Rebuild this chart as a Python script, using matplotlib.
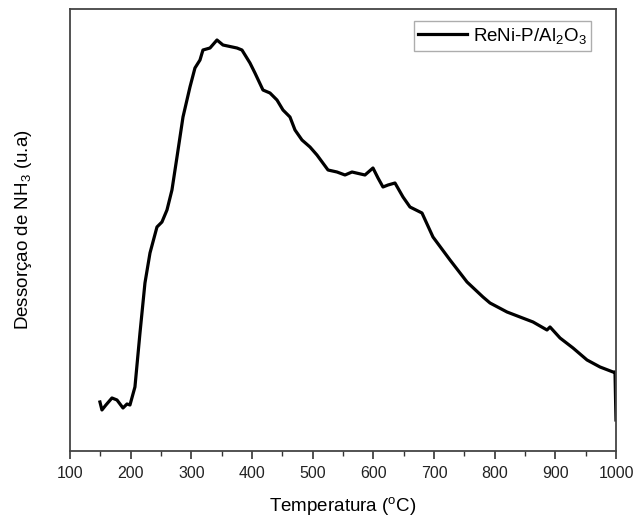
import matplotlib
matplotlib.use('Agg')
import matplotlib.pyplot as plt
from matplotlib.ticker import MultipleLocator

plt.rcParams['font.family'] = 'Liberation Sans'
plt.rcParams['mathtext.fontset'] = 'custom'
plt.rcParams['mathtext.rm'] = 'Liberation Sans'
plt.rcParams['mathtext.it'] = 'Liberation Sans'

# TPD de NH3 (u.a.)
temperatura = [149.4, 152.7, 159.3, 169.2, 177.5, 187.4, 194.0, 198.9, 207.1, 215.4,
               223.6, 231.9, 243.4, 251.6, 259.9, 268.1, 276.4, 286.3, 297.8, 306.0,
               314.3, 319.2, 330.8, 342.3, 352.2, 375.3, 383.5, 396.7, 404.9, 418.1,
               429.7, 441.2, 451.1, 462.6, 470.9, 482.4, 495.6, 507.1, 525.3, 540.1,
               553.3, 564.8, 586.2, 599.4, 607.7, 615.9, 624.2, 635.7, 648.9, 660.4,
               680.2, 698.3, 726.4, 754.4, 780.7, 792.3, 820.3, 841.7, 863.2, 886.2,
               891.2, 907.7, 929.1, 952.2, 973.6, 995.0, 998.3, 999.9]
dessorcao = [0.49, 0.41, 0.46, 0.53, 0.51, 0.43, 0.47, 0.46, 0.64, 1.18,
             1.68, 1.98, 2.24, 2.29, 2.41, 2.61, 2.94, 3.34, 3.64, 3.83,
             3.91, 4.01, 4.03, 4.11, 4.06, 4.03, 4.01, 3.88, 3.78, 3.61,
             3.58, 3.51, 3.41, 3.34, 3.21, 3.11, 3.04, 2.96, 2.81, 2.79,
             2.76, 2.79, 2.76, 2.83, 2.73, 2.64, 2.66, 2.68, 2.54, 2.44,
             2.38, 2.14, 1.91, 1.69, 1.54, 1.48, 1.39, 1.34, 1.29, 1.21,
             1.24, 1.13, 1.03, 0.91, 0.84, 0.79, 0.79, 0.31]

fig = plt.figure(figsize=(6.36, 5.21), dpi=100)
ax = fig.add_axes([0.110, 0.1344, 0.8586, 0.8483])

ax.plot(temperatura, dessorcao, color='black', linewidth=2.3, label='ReNi-P/Al$_2$O$_3$')

ax.set_xlim(100, 1000)
ax.set_ylim(0, 4.42)
ax.xaxis.set_major_locator(MultipleLocator(100))
ax.xaxis.set_minor_locator(MultipleLocator(50))
ax.tick_params(axis='x', which='major', direction='out', length=6, width=1.2,
               labelsize=11.5, colors='#333333', pad=5)
ax.tick_params(axis='x', which='minor', direction='out', length=3.5, width=1.0, colors='#333333')
ax.tick_params(axis='y', which='both', left=False, labelleft=False)
for lbl in ax.get_xticklabels():
    lbl.set_color('#222222')

for s in ax.spines.values():
    s.set_color('#444444')
    s.set_linewidth(1.3)

ax.set_xlabel('Temperatura ($^\\mathregular{o}$C)', fontsize=13.5)
ax.set_ylabel('Dessorçao de NH$_3$ (u.a)', fontsize=13.5)
ax.xaxis.set_label_coords(0.5, -0.1)
ax.yaxis.set_label_coords(-0.066, 0.5)

leg = ax.legend(loc='upper right', bbox_to_anchor=(0.965, 0.985), fontsize=13.5,
                fancybox=False, edgecolor='#999999', handlelength=2.6,
                borderpad=0.25, handletextpad=0.3, borderaxespad=0.3)
leg.get_frame().set_linewidth(1.0)

fig.savefig('out.png', dpi=100)
